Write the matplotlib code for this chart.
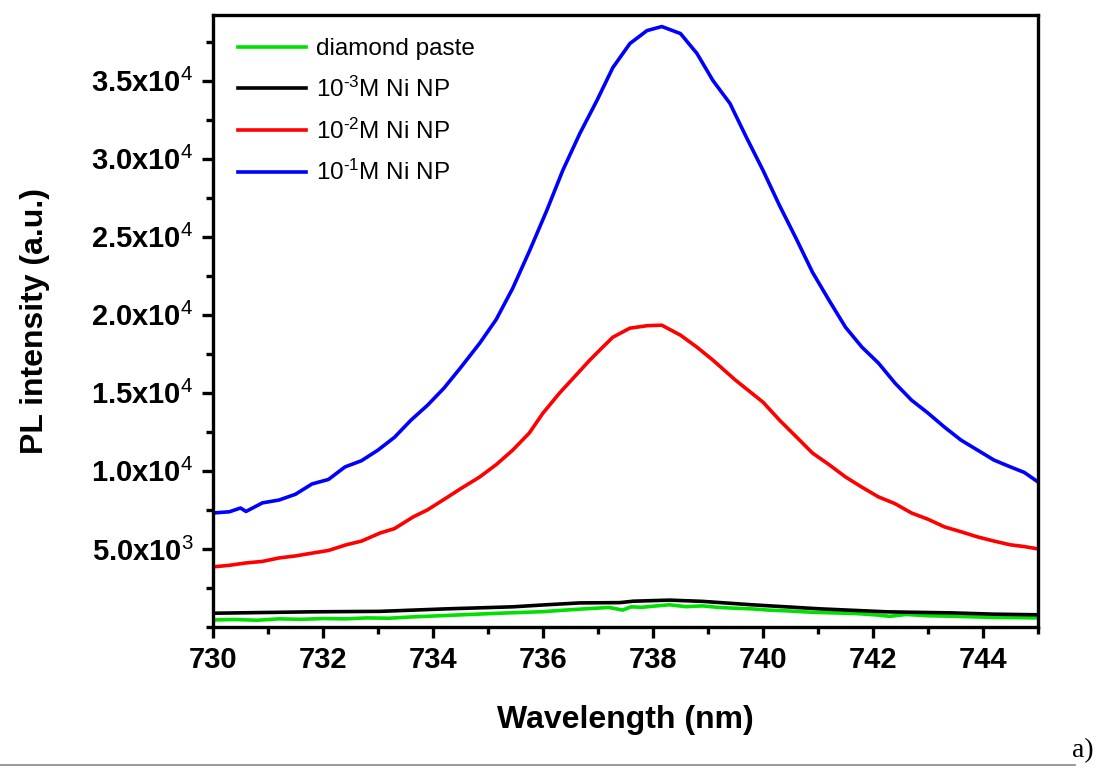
import numpy as np
import matplotlib.pyplot as plt
from matplotlib.lines import Line2D
from matplotlib.ticker import FixedLocator, MultipleLocator

plt.rcParams['font.family'] = 'Liberation Sans'
plt.rcParams['mathtext.fontset'] = 'custom'
plt.rcParams['mathtext.rm'] = 'Liberation Sans'
plt.rcParams['mathtext.it'] = 'Liberation Sans:italic'
plt.rcParams['mathtext.bf'] = 'Liberation Sans:bold'

# valeurs (nm, intensite)
wl_blue = [730.0, 730.3, 730.5, 730.6, 730.9, 731.2, 731.5, 731.8, 732.1, 732.4, 732.7,
           733.0, 733.3, 733.6, 733.9, 734.2, 734.5, 734.85, 735.15, 735.45, 735.76,
           736.07, 736.36, 736.67, 736.98, 737.27, 737.58, 737.89, 738.16, 738.5, 738.8,
           739.09, 739.4, 739.7, 740.0, 740.3, 740.6, 740.9, 741.2, 741.5, 741.8, 742.1,
           742.4, 742.7, 743.0, 743.3, 743.6, 743.9, 744.2, 744.5, 744.75, 745.0]
I_blue = [7300, 7380, 7620, 7400, 7950, 8130, 8500, 9160, 9450, 10250, 10650,
          11330, 12150, 13250, 14200, 15300, 16600, 18180, 19700, 21700, 24130,
          26690, 29250, 31610, 33720, 35830, 37370, 38200, 38460, 38010, 36730,
          35000, 33530, 31350, 29250, 27000, 24900, 22720, 20930, 19200, 17920, 16900,
          15620, 14530, 13700, 12800, 11970, 11330, 10690, 10250, 9900, 9290]

wl_red = [730.0, 730.3, 730.6, 730.9, 731.2, 731.5, 731.82, 732.1, 732.42, 732.7,
          733.04, 733.3, 733.64, 733.9, 734.24, 734.5, 734.85, 735.15, 735.45, 735.75,
          736.0, 736.3, 736.6, 736.85, 737.05, 737.27, 737.58, 737.9, 738.16, 738.5,
          738.8, 739.09, 739.5, 740.0, 740.3, 740.6, 740.9, 741.2, 741.5, 741.8, 742.1,
          742.4, 742.7, 743.0, 743.3, 743.6, 743.9, 744.2, 744.5, 744.75, 745.0]
I_red = [3850, 3950, 4100, 4200, 4420, 4550, 4740, 4900, 5260, 5500,
         6020, 6300, 7050, 7500, 8260, 8850, 9610, 10400, 11330, 12420,
         13700, 14980, 16130, 17090, 17800, 18560, 19140, 19300, 19330, 18690,
         17920, 17090, 15810, 14400, 13250, 12200, 11140, 10400, 9610, 8950, 8330,
         7900, 7300, 6900, 6410, 6100, 5770, 5500, 5260, 5150, 5000]

wl_black = [730.0, 731.0, 731.8, 733.04, 734.24, 735.45, 736.05, 736.67, 737.4, 737.64,
            738.3, 738.9, 739.8, 741.04, 742.25, 743.45, 744.2, 745.0]
I_black = [880, 930, 970, 1000, 1160, 1290, 1420, 1540, 1560, 1650,
           1720, 1640, 1420, 1160, 970, 900, 820, 780]

wl_green = [730.0, 730.4, 730.8, 731.2, 731.6, 732.0, 732.4, 732.8, 733.2, 733.6, 734.0,
            734.4, 734.8, 735.2, 735.6, 736.0, 736.4, 736.8, 737.2, 737.45, 737.6, 737.8,
            738.0, 738.3, 738.6, 738.9, 739.2, 739.5, 739.8, 740.1, 740.5, 740.9, 741.3,
            741.7, 742.1, 742.3, 742.6, 743.0, 743.4, 743.8, 744.2, 744.6, 745.0]
I_green = [450, 480, 430, 520, 490, 540, 520, 580, 560, 640, 700,
           760, 820, 880, 930, 980, 1080, 1170, 1250, 1080, 1290, 1260,
           1330, 1420, 1300, 1350, 1250, 1200, 1160, 1080, 1020, 940, 900,
           860, 760, 680, 800, 720, 690, 650, 610, 600, 580]

labels = ['diamond paste', r'10$^{\text{-}3}$M Ni NP', r'10$^{\text{-}2}$M Ni NP',
          r'10$^{\text{-}1}$M Ni NP']
couleurs = ['#00e000', 'black', '#ff0000', '#0000ff']

yticks = [5000, 10000, 15000, 20000, 25000, 30000, 35000]
ytick_labels = ['5.0x10$^3$', '1.0x10$^4$', '1.5x10$^4$', '2.0x10$^4$',
                '2.5x10$^4$', '3.0x10$^4$', '3.5x10$^4$']

fig = plt.figure(figsize=(10.99, 7.69), dpi=100)
ax = fig.add_axes([0.1938, 0.1847, 0.7507, 0.7958])

for wl, I, lab, c in zip([wl_green, wl_black, wl_red, wl_blue],
                         [I_green, I_black, I_red, I_blue], labels, couleurs):
    ax.plot(wl, I, color=c, lw=2.6, label=lab)

ax.set_xlim(730, 745)
ax.set_ylim(0, 39200)
ax.xaxis.set_major_locator(MultipleLocator(2))
ax.xaxis.set_minor_locator(MultipleLocator(1))
ax.yaxis.set_major_locator(FixedLocator(yticks))
ax.set_yticklabels(ytick_labels)
ax.yaxis.set_minor_locator(MultipleLocator(2500))

for s in ax.spines.values():
    s.set_linewidth(2.4)
ax.tick_params(which='both', direction='out', width=2.4, top=False, right=False)
ax.tick_params(which='major', length=8, labelsize=21, pad=6)
ax.tick_params(which='minor', length=5)
for t in ax.get_xticklabels() + ax.get_yticklabels():
    t.set_fontweight('bold')

ax.set_xlabel('Wavelength (nm)', fontsize=23, fontweight='bold', labelpad=22)
ax.set_ylabel('PL intensity (a.u.)', fontsize=23, fontweight='bold', labelpad=30)

ax.legend(loc='upper left', frameon=False, fontsize=17.5, handlelength=2.8,
          handletextpad=0.4, labelspacing=0.68, borderaxespad=0.3,
          bbox_to_anchor=(0.01, 0.99))

fig.add_artist(Line2D([0.0, 0.978], [0.005, 0.005], transform=fig.transFigure,
                      color='#888888', lw=1.2))
fig.text(0.995, 0.008, 'a)', fontsize=20, family='Liberation Serif', ha='right', va='bottom')

plt.savefig('out.png', dpi=100)
